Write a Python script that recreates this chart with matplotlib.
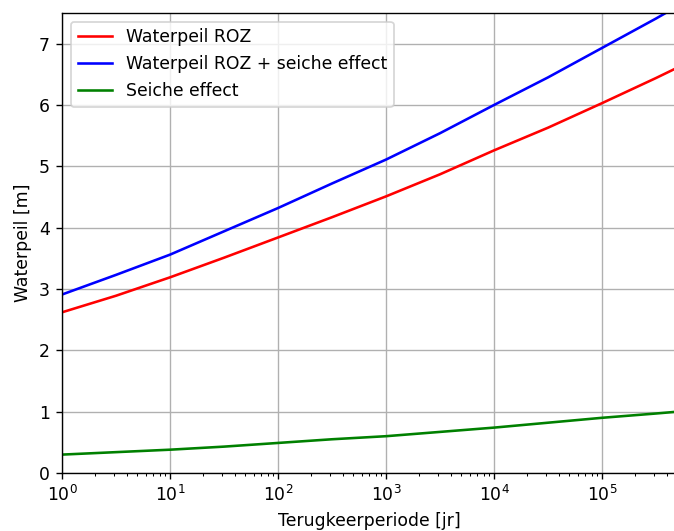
import numpy as np
import matplotlib
matplotlib.use("Agg")
import matplotlib.pyplot as plt

# return periods [jr] and levels [m]
terugkeerperiode = [1, 3.16, 10, 31.6, 100, 316, 1000, 3162, 1e4, 31623, 1e5, 316228, 5e5]
waterpeil_roz = [2.62, 2.89, 3.19, 3.51, 3.84, 4.17, 4.51, 4.87, 5.26, 5.63, 6.03, 6.44, 6.61]
seiche_effect = [0.30, 0.34, 0.38, 0.43, 0.49, 0.55, 0.60, 0.67, 0.74, 0.82, 0.90, 0.97, 1.00]
waterpeil_totaal = [2.91, 3.23, 3.56, 3.94, 4.32, 4.72, 5.11, 5.54, 6.00, 6.45, 6.93, 7.41, 7.61]

dpi = 124
fig = plt.figure(figsize=(674/dpi, 531/dpi), dpi=dpi)
ax = fig.add_axes([62/674, 58/531, 615.5/674, 460/531])

ax.plot(terugkeerperiode, waterpeil_roz, color="red", label="Waterpeil ROZ")
ax.plot(terugkeerperiode, waterpeil_totaal, color="blue", label="Waterpeil ROZ + seiche effect")
ax.plot(terugkeerperiode, seiche_effect, color="green", label="Seiche effect")

ax.set_xscale("log")
ax.set_xlim(1, 5e5)
ax.set_ylim(0, 7.5)
ax.grid(True)
ax.set_xlabel("Terugkeerperiode [jr]")
ax.set_ylabel("Waterpeil [m]")
ax.legend(loc="upper left")

fig.savefig("out.png", dpi=dpi)
